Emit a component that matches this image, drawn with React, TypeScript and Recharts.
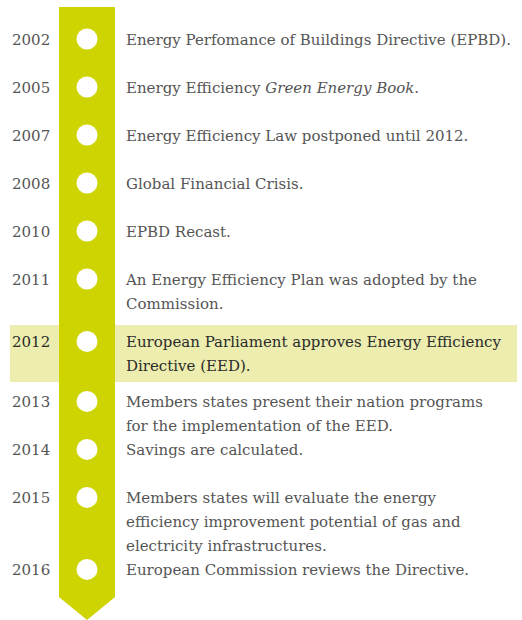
import React from 'react';
import { ComposedChart, Scatter, XAxis, YAxis, ReferenceArea } from 'recharts';

// timeline rows (row 0 = first event, 1 row = one single-line step)
const years = [2002, 2005, 2007, 2008, 2010, 2011, 2012, 2013, 2014, 2015, 2016];
const rows = [0, 1, 2, 3, 4, 5, 6.3, 7.55, 8.55, 9.55, 11.05];
const descriptions: string[][] = [
  ['Energy Perfomance of Buildings Directive (EPBD).'],
  ['Energy Efficiency _Green Energy Book_.'],
  ['Energy Efficiency Law postponed until 2012.'],
  ['Global Financial Crisis.'],
  ['EPBD Recast.'],
  ['An Energy Efficiency Plan was adopted by the', 'Commission.'],
  ['European Parliament approves Energy Efficiency', 'Directive (EED).'],
  ['Members states present their nation programs', 'for the implementation of the EED.'],
  ['Savings are calculated.'],
  ['Members states will evaluate the energy', 'efficiency improvement potential of gas and', 'electricity infrastructures.'],
  ['European Commission reviews the Directive.'],
];
const highlightYear = 2012;

const W = 522;
const H = 620;
const ROW_PX = 48;
const FIRST_PX = 39;
const COLUMN_X = 87;
const BAND_LEFT = 59;
const BAND_RIGHT = 115;
const FONT = "'DejaVu Serif', serif";

const rowAt = (px: number) => (px - FIRST_PX) / ROW_PX;

const data = years.map((year, i) => ({
  year,
  x: COLUMN_X,
  row: rows[i],
  lines: descriptions[i],
}));

function renderSegments(line: string) {
  const parts = line.split('_');
  return parts.map((p, i) => (
    <tspan key={i} style={{ fontStyle: i % 2 === 1 ? 'italic' : 'normal' }}>{p}</tspan>
  ));
}

const EventMark = (props: any) => {
  const { cx, cy, payload } = props;
  const strong = payload.year === highlightYear;
  const color = strong ? '#2b2b2b' : '#555555';
  const textStyle = { fontFamily: FONT, fontSize: 15 };
  return (
    <g>
      <circle cx={cx} cy={cy} r={10.5} fill="#ffffff" />
      <text x={12} y={cy + 6} fill={color} style={textStyle}>
        {payload.year}
      </text>
      <text x={126} y={cy + 6} fill={color} style={textStyle}>
        {payload.lines.map((l: string, i: number) => (
          <tspan key={i} x={126} dy={i === 0 ? 0 : 24}>{renderSegments(l)}</tspan>
        ))}
      </text>
    </g>
  );
};

const Band = (props: any) => {
  const { x, y, width, height } = props;
  const tip = 23;
  const mid = x + width / 2;
  const pts = [
    [x, y],
    [x + width, y],
    [x + width, y + height - tip],
    [mid, y + height],
    [x, y + height - tip],
  ]
    .map((p) => p.join(','))
    .join(' ');
  return <polygon points={pts} fill="#cdd400" />;
};

export default function App() {
  return (
    <div style={{ position: 'absolute', left: 0, top: 0, width: W, height: H, background: '#fff' }}>
      <ComposedChart width={W} height={H} data={data} margin={{ top: 0, right: 0, bottom: 0, left: 0 }}>
        <XAxis dataKey="x" type="number" domain={[0, W]} hide />
        <YAxis dataKey="row" type="number" domain={[rowAt(0), rowAt(H)]} reversed hide width={0} allowDataOverflow />
        <ReferenceArea x1={10} x2={517} y1={rowAt(325)} y2={rowAt(382)} fill="#ecedae" fillOpacity={1} stroke="none" />
        <ReferenceArea
          x1={BAND_LEFT}
          x2={BAND_RIGHT}
          y1={rowAt(7)}
          y2={rowAt(H)}
          shape={<Band />}
        />
        <Scatter data={data} dataKey="row" shape={<EventMark />} isAnimationActive={false} />
      </ComposedChart>
    </div>
  );
}
